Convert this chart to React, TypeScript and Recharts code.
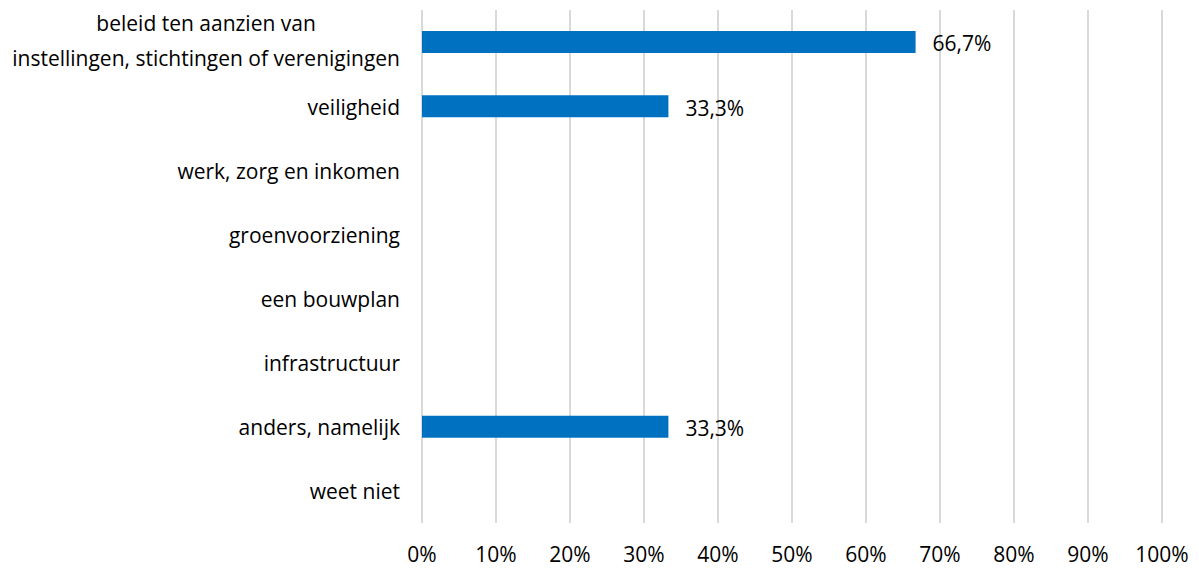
import React from "react";
import { BarChart, Bar, XAxis, YAxis, CartesianGrid, LabelList } from "recharts";

const categories = [
  "beleid ten aanzien van\ninstellingen, stichtingen of verenigingen",
  "veiligheid",
  "werk, zorg en inkomen",
  "groenvoorziening",
  "een bouwplan",
  "infrastructuur",
  "anders, namelijk",
  "weet niet",
];
const values = [66.7, 33.3, 0, 0, 0, 0, 33.3, 0];
const xTicks = [0, 10, 20, 30, 40, 50, 60, 70, 80, 90, 100];

const data = categories.map((c, i) => ({ name: c, value: values[i] }));

const FONT = "Open Sans";
const FS = 21;
const TEXT = "#000000";

let ctx: CanvasRenderingContext2D | null = null;
function measure(s: string): number {
  if (!ctx) ctx = document.createElement("canvas").getContext("2d");
  if (!ctx) return s.length * FS * 0.5;
  ctx.font = `${FS}px "${FONT}"`;
  return ctx.measureText(s).width;
}

const YTick = (props: any) => {
  const { x, y, payload } = props;
  const lines: string[] = String(payload.value).split("\n");
  if (lines.length === 1) {
    return (
      <text x={x} y={y + 1} dy="0.35em" textAnchor="end" fontFamily={FONT} fontSize={FS} fill={TEXT}>
        {lines[0]}
      </text>
    );
  }
  const maxW = Math.max(...lines.map(measure));
  const cx = x - maxW / 2;
  const lh = 35;
  const start = y - ((lines.length - 1) * lh) / 2 - 1;
  return (
    <g>
      {lines.map((l, i) => (
        <text key={i} x={cx} y={start + i * lh} dy="0.35em" textAnchor="middle" fontFamily={FONT} fontSize={FS} fill={TEXT}>
          {l}
        </text>
      ))}
    </g>
  );
};

const XTick = (props: any) => {
  const { x, y, payload } = props;
  return (
    <text x={x} y={y + 32} dy="0.35em" textAnchor="middle" fontFamily={FONT} fontSize={FS} fill={TEXT}>
      {`${payload.value}%`}
    </text>
  );
};

const fmt = (v: any) => (v && Number(v) > 0 ? `${Number(v).toFixed(1).replace(".", ",")}%` : "");

export default function App() {
  return (
    <BarChart
      width={1191}
      height={560}
      data={data}
      layout="vertical"
      margin={{ top: 2, right: 37, bottom: 0, left: 0 }}
      barSize={22}
    >
      <CartesianGrid horizontal={false} vertical={true} stroke="#D9D9D9" strokeWidth={2} />
      <XAxis
        type="number"
        domain={[0, 100]}
        ticks={xTicks}
        interval={0}
        axisLine={false}
        tickLine={false}
        tickSize={0}
        tickMargin={0}
        height={45}
        tick={<XTick />}
      />
      <YAxis
        type="category"
        dataKey="name"
        width={414}
        axisLine={false}
        tickLine={false}
        tickSize={0}
        tickMargin={22}
        interval={0}
        tick={<YTick />}
      />
      <Bar dataKey="value" fill="#0070C0" isAnimationActive={false}>
        <LabelList
          dataKey="value"
          position="right"
          offset={17}
          dy={2}
          formatter={fmt}
          fontFamily={FONT}
          fontSize={FS}
          fill={TEXT}
        />
      </Bar>
    </BarChart>
  );
}
